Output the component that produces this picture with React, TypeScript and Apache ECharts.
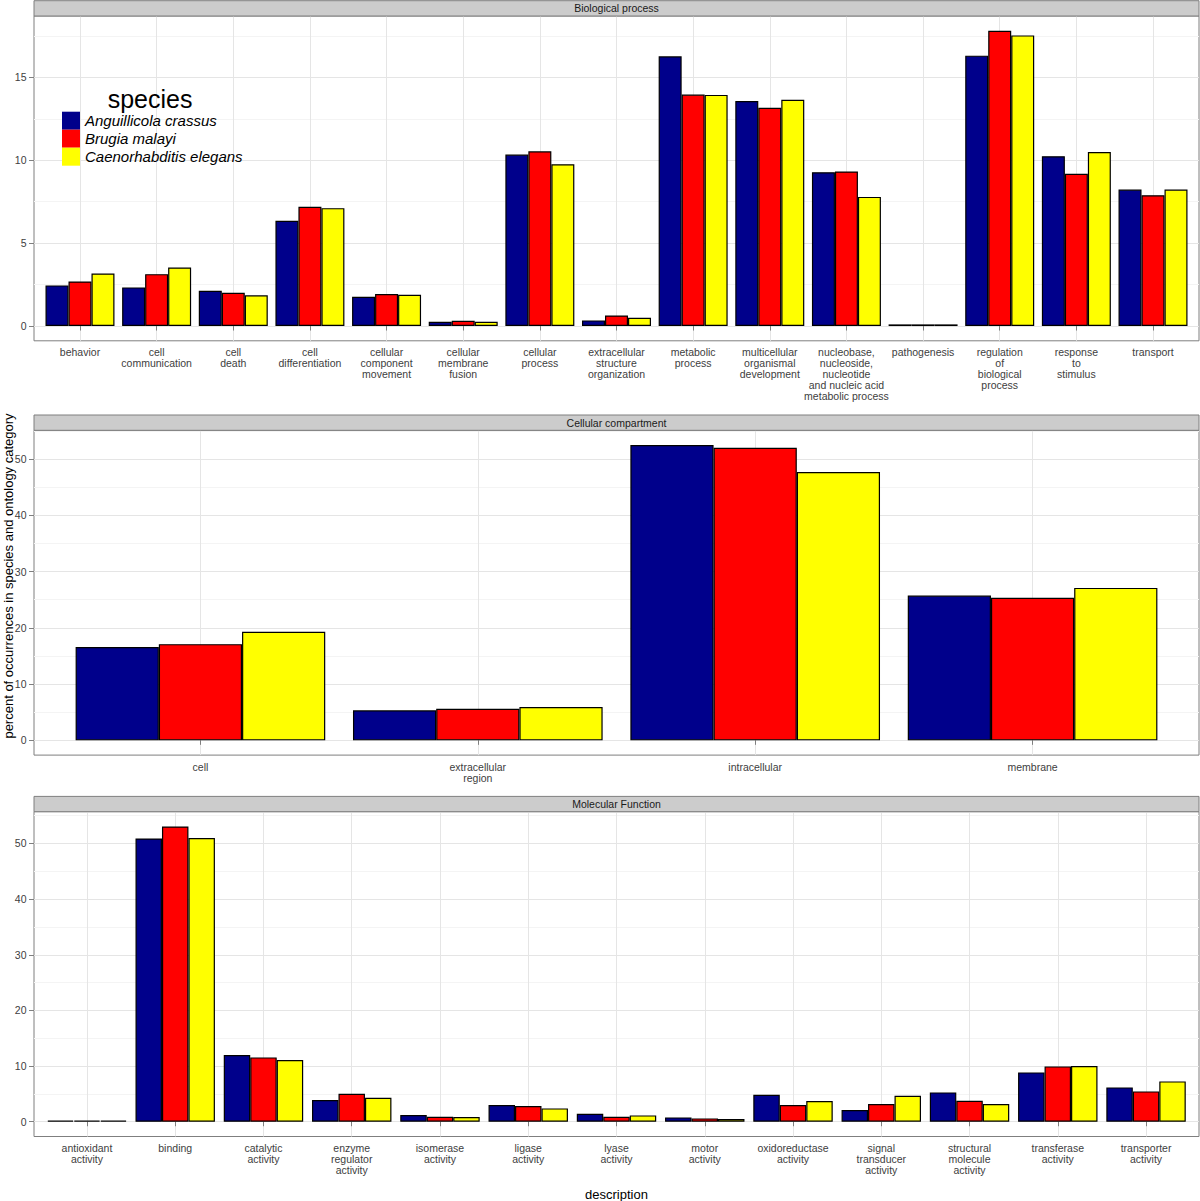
import React, { useEffect, useRef } from 'react';
import * as echarts from 'echarts';

// ---------- data ----------
const SPECIES = ['Anguillicola crassus', 'Brugia malayi', 'Caenorhabditis elegans'];
const SPECIES_COLORS = ['#00008B', '#FF0000', '#FFFF00'];

const BP_CATEGORIES = [
  'behavior',
  'cell\ncommunication',
  'cell\ndeath',
  'cell\ndifferentiation',
  'cellular\ncomponent\nmovement',
  'cellular\nmembrane\nfusion',
  'cellular\nprocess',
  'extracellular\nstructure\norganization',
  'metabolic\nprocess',
  'multicellular\norganismal\ndevelopment',
  'nucleobase,\nnucleoside,\nnucleotide\nand nucleic acid\nmetabolic process',
  'pathogenesis',
  'regulation\nof\nbiological\nprocess',
  'response\nto\nstimulus',
  'transport',
];
const BP_ANGUILLICOLA = [2.45, 2.33, 2.13, 6.35, 1.77, 0.26, 10.34, 0.34, 16.27, 13.57, 9.28, 0.1, 16.31, 10.24, 8.23];
const BP_BRUGIA = [2.69, 3.13, 2.01, 7.19, 1.93, 0.32, 10.54, 0.64, 13.96, 13.17, 9.32, 0.1, 17.81, 9.18, 7.89];
const BP_CAENORHABDITIS = [3.17, 3.53, 1.85, 7.11, 1.89, 0.26, 9.76, 0.5, 13.94, 13.65, 7.79, 0.1, 17.53, 10.5, 8.23];

const CC_CATEGORIES = ['cell', 'extracellular\nregion', 'intracellular', 'membrane'];
const CC_ANGUILLICOLA = [16.57, 5.33, 52.49, 25.74];
const CC_BRUGIA = [17.1, 5.62, 52.01, 25.33];
const CC_CAENORHABDITIS = [19.29, 5.92, 47.69, 27.1];

const MF_CATEGORIES = [
  'antioxidant\nactivity',
  'binding',
  'catalytic\nactivity',
  'enzyme\nregulator\nactivity',
  'isomerase\nactivity',
  'ligase\nactivity',
  'lyase\nactivity',
  'motor\nactivity',
  'oxidoreductase\nactivity',
  'signal\ntransducer\nactivity',
  'structural\nmolecule\nactivity',
  'transferase\nactivity',
  'transporter\nactivity',
];
const MF_ANGUILLICOLA = [0.2, 50.9, 11.98, 3.89, 1.2, 2.99, 1.44, 0.78, 4.85, 2.1, 5.27, 8.86, 6.17];
const MF_BRUGIA = [0.2, 53.05, 11.56, 5.03, 0.9, 2.81, 0.9, 0.6, 2.99, 3.17, 3.77, 9.94, 5.45];
const MF_CAENORHABDITIS = [0.2, 50.96, 11.08, 4.31, 0.84, 2.4, 1.14, 0.48, 3.71, 4.67, 3.17, 10.0, 7.25];

const BP_MAJOR_TICKS = [0, 5, 10, 15];
const BP_MINOR_TICKS = [2.5, 7.5, 12.5, 17.5];
const CC_MAJOR_TICKS = [0, 10, 20, 30, 40, 50];
const CC_MINOR_TICKS = [5, 15, 25, 35, 45, 55];
const MF_MAJOR_TICKS = [0, 10, 20, 30, 40, 50];
const MF_MINOR_TICKS = [5, 15, 25, 35, 45, 55];

const PANEL_TITLES = ['Biological process', 'Cellular compartment', 'Molecular Function'];
const Y_TITLE = 'percent of occurrences in species and ontology category';
const X_TITLE = 'description';
const LEGEND_TITLE = 'species';

// ---------- layout / style ----------
const FONT = '"Liberation Sans", Arial, Helvetica, sans-serif';
const PLOT_LEFT = 34;
const PLOT_WIDTH = 1165;
const PANEL_TOPS = [16, 430.3, 811.7];
const PANEL_HEIGHT = 324.8;
const STRIP_HEIGHT = 15.3;
const AXIS_TEXT = '#404040';
const TICK_COLOR = '#7F7F7F';
const MAJOR_GRID = '#E5E5E5';
const MINOR_GRID = '#F4F4F4';

const panels = [
  { title: PANEL_TITLES[0], categories: BP_CATEGORIES, series: [BP_ANGUILLICOLA, BP_BRUGIA, BP_CAENORHABDITIS], major: BP_MAJOR_TICKS, minor: BP_MINOR_TICKS },
  { title: PANEL_TITLES[1], categories: CC_CATEGORIES, series: [CC_ANGUILLICOLA, CC_BRUGIA, CC_CAENORHABDITIS], major: CC_MAJOR_TICKS, minor: CC_MINOR_TICKS },
  { title: PANEL_TITLES[2], categories: MF_CATEGORIES, series: [MF_ANGUILLICOLA, MF_BRUGIA, MF_CAENORHABDITIS], major: MF_MAJOR_TICKS, minor: MF_MINOR_TICKS },
];

function buildOption() {
  const grid: any[] = [];
  const xAxis: any[] = [];
  const yAxis: any[] = [];
  const series: any[] = [];
  const graphic: any[] = [];

  panels.forEach((panel, p) => {
    const n = panel.categories.length;
    const unit = PLOT_WIDTH / (n + 0.2);
    const dataMax = Math.max(...panel.series.flat());
    const yMin = -0.05 * dataMax;
    const yMax = 1.05 * dataMax;
    const top = PANEL_TOPS[p];

    // frame grid (full panel) and data grid (inset by ggplot's discrete expansion)
    grid.push({
      left: PLOT_LEFT, top, width: PLOT_WIDTH, height: PANEL_HEIGHT,
      show: true, borderColor: '#7F7F7F', borderWidth: 1, backgroundColor: 'transparent',
      containLabel: false, outerBoundsMode: 'none',
    });
    grid.push({
      left: PLOT_LEFT + 0.1 * unit, top, width: n * unit, height: PANEL_HEIGHT,
      containLabel: false, outerBoundsMode: 'none',
    });

    const centers = panel.categories.map((_, i) => i + 1);
    xAxis.push({
      type: 'value', gridIndex: 2 * p, min: 0.4, max: n + 0.6,
      axisLine: { show: false },
      axisTick: { show: false, customValues: centers },
      axisLabel: { show: false, customValues: centers },
      splitLine: { show: true, lineStyle: { color: MAJOR_GRID, width: 1 } },
    });
    xAxis.push({
      type: 'category', gridIndex: 2 * p + 1, data: panel.categories, boundaryGap: true,
      axisLine: { show: false },
      axisTick: { show: true, alignWithLabel: true, length: 4.5, lineStyle: { color: TICK_COLOR, width: 1 } },
      axisLabel: {
        interval: 0, margin: 6, fontSize: 10.5, lineHeight: 11, color: AXIS_TEXT, fontFamily: FONT, align: 'center',
      },
      splitLine: { show: false },
    });

    yAxis.push({
      type: 'value', gridIndex: 2 * p, min: yMin, max: yMax,
      axisLine: { show: false },
      axisTick: { show: true, length: 5, customValues: panel.major, lineStyle: { color: TICK_COLOR, width: 1 } },
      axisLabel: { show: true, customValues: panel.major, margin: 7.5, fontSize: 10.5, color: AXIS_TEXT, fontFamily: FONT },
      splitLine: { show: true, lineStyle: { color: MAJOR_GRID, width: 1 } },
    });
    yAxis.push({
      type: 'value', gridIndex: 2 * p, min: yMin, max: yMax, position: 'left',
      axisLine: { show: false },
      axisTick: { show: false, customValues: panel.minor },
      axisLabel: { show: false, customValues: panel.minor },
      splitLine: { show: true, lineStyle: { color: MINOR_GRID, width: 1 } },
    });
    yAxis.push({
      type: 'value', gridIndex: 2 * p + 1, min: yMin, max: yMax, show: false,
      splitLine: { show: false },
    });

    panel.series.forEach((values, s) => {
      series.push({
        type: 'bar',
        name: SPECIES[s],
        xAxisIndex: 2 * p + 1,
        yAxisIndex: 3 * p + 2,
        data: values,
        barGap: '0%',
        barCategoryGap: '10%',
        silent: true,
        itemStyle: { color: SPECIES_COLORS[s], borderColor: '#000000', borderWidth: 1.2 },
        emphasis: { disabled: true },
      });
    });

    // facet strip
    graphic.push({
      type: 'rect', z: 10,
      shape: { x: PLOT_LEFT, y: top - STRIP_HEIGHT, width: PLOT_WIDTH, height: STRIP_HEIGHT },
      style: { fill: '#CCCCCC', stroke: '#7F7F7F', lineWidth: 1 },
    });
    graphic.push({
      type: 'text', z: 11,
      x: PLOT_LEFT + PLOT_WIDTH / 2, y: top - STRIP_HEIGHT / 2,
      style: { text: panel.title, fontSize: 10.5, fontFamily: FONT, fill: '#1A1A1A', align: 'center', verticalAlign: 'middle' },
    });
  });

  graphic.push({
    type: 'text', z: 11, x: 8, y: 576, rotation: Math.PI / 2,
    style: { text: Y_TITLE, fontSize: 13, fontFamily: FONT, fill: '#000000', align: 'center', verticalAlign: 'middle' },
  });
  graphic.push({
    type: 'text', z: 11, x: PLOT_LEFT + PLOT_WIDTH / 2, y: 1194,
    style: { text: X_TITLE, fontSize: 13, fontFamily: FONT, fill: '#000000', align: 'center', verticalAlign: 'middle' },
  });
  graphic.push({
    type: 'text', z: 11, x: 150, y: 99,
    style: { text: LEGEND_TITLE, fontSize: 25, fontFamily: FONT, fill: '#000000', align: 'center', verticalAlign: 'middle' },
  });

  return {
    animation: false,
    backgroundColor: '#FFFFFF',
    textStyle: { fontFamily: FONT },
    grid,
    xAxis,
    yAxis,
    series,
    graphic,
    legend: {
      data: SPECIES,
      left: 62,
      top: 111.7,
      orient: 'vertical',
      itemWidth: 18,
      itemHeight: 18,
      itemGap: 0,
      padding: 0,
      icon: 'rect',
      selectedMode: false,
      itemStyle: { borderWidth: 0 },
      textStyle: { fontSize: 15, fontStyle: 'italic', color: '#000000', fontFamily: FONT },
    },
  };
}

export default function App() {
  const ref = useRef<HTMLDivElement>(null);
  useEffect(() => {
    if (!ref.current) return;
    const chart = echarts.init(ref.current, null, { renderer: 'svg' });
    chart.setOption(buildOption() as any);
    return () => chart.dispose();
  }, []);
  return (
    <div
      ref={ref}
      style={{ position: 'absolute', left: 0, top: 0, width: 1200, height: 1201, background: '#FFFFFF' }}
    />
  );
}
